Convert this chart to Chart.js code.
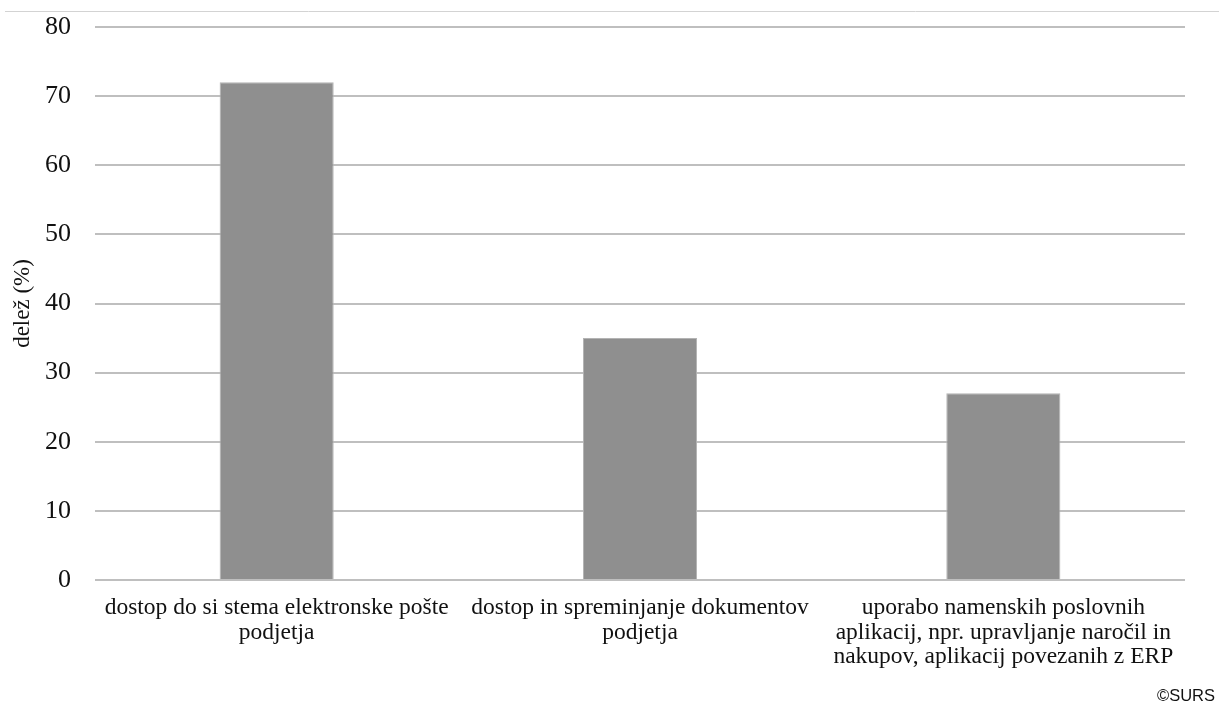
<!DOCTYPE html>
<html lang="sl">
<head>
<meta charset="utf-8">
<title>delež (%)</title>
<script src="https://cdn.jsdelivr.net/npm/chart.js@4/dist/chart.umd.min.js"></script>
<style>
  html, body { margin: 0; padding: 0; background: #ffffff; }
  #wrap { position: relative; width: 1219px; height: 706px; }
</style>
</head>
<body>
<div id="wrap"><canvas id="c" width="1219" height="706"></canvas></div>
<script>
// Categories (multi-line labels as drawn under the axis)
const categories = [
  ['dostop do si stema elektronske pošte', 'podjetja'],
  ['dostop in spreminjanje dokumentov', 'podjetja'],
  ['uporabo namenskih poslovnih', 'aplikacij, npr. upravljanje naročil in', 'nakupov, aplikacij povezanih z ERP']
];
// Share of enterprises, %
const shareValues = [72, 35, 27];
// Value axis
const yTicks = [0, 10, 20, 30, 40, 50, 60, 70, 80];
const yTitle = 'delež (%)';
const sourceNote = '©SURS';

const serif = "'Liberation Serif', 'Times New Roman', serif";

// Thin rule across the top and the source note in the bottom-right corner
const framePlugin = {
  id: 'frame',
  afterDraw(chart) {
    const ctx = chart.ctx;
    ctx.save();
    ctx.strokeStyle = '#d3d3d3';
    ctx.lineWidth = 1;
    ctx.beginPath();
    ctx.moveTo(5, 11.5);
    ctx.lineTo(chart.width, 11.5);
    ctx.stroke();
    ctx.fillStyle = '#111111';
    ctx.font = "16.5px 'Liberation Sans', Arial, sans-serif";
    ctx.textAlign = 'right';
    ctx.textBaseline = 'alphabetic';
    ctx.fillText(sourceNote, 1215, 701);
    ctx.restore();
  }
};

new Chart(document.getElementById('c'), {
  type: 'bar',
  data: {
    labels: categories,
    datasets: [{
      data: shareValues,
      backgroundColor: '#8f8f8f',
      borderColor: '#b3b3b3',
      borderWidth: 1,
      categoryPercentage: 1,
      barPercentage: 0.314
    }]
  },
  options: {
    responsive: false,
    animation: false,
    devicePixelRatio: 1,
    layout: { padding: { top: 27, right: 34, left: 0, bottom: 0 } },
    plugins: {
      legend: { display: false },
      tooltip: { enabled: false }
    },
    scales: {
      x: {
        grid: { display: false, drawTicks: false },
        border: { display: false },
        ticks: {
          autoSkip: false,
          maxRotation: 0,
          minRotation: 0,
          padding: 16,
          color: '#111111',
          font: { family: serif, size: 23.5, lineHeight: '24.5px' }
        },
        afterFit(scale) {
          scale.height = 126;
          scale.paddingLeft = 0;
          scale.paddingRight = 0;
        }
      },
      y: {
        min: yTicks[0],
        max: yTicks[yTicks.length - 1],
        afterBuildTicks(scale) { scale.ticks = yTicks.map(v => ({ value: v })); },
        grid: { color: '#bfbfbf', lineWidth: 2, drawTicks: false },
        border: { display: false },
        ticks: {
          padding: 24,
          color: '#111111',
          font: { family: serif, size: 26 }
        },
        title: {
          display: true,
          text: yTitle,
          color: '#111111',
          padding: { top: 9, bottom: 0 },
          font: { family: serif, size: 23, lineHeight: 1.2 }
        },
        afterFit(scale) {
          scale.width = 95;
          scale.paddingTop = 0;
          scale.paddingBottom = 0;
        }
      }
    }
  },
  plugins: [framePlugin]
});
</script>
</body>
</html>
